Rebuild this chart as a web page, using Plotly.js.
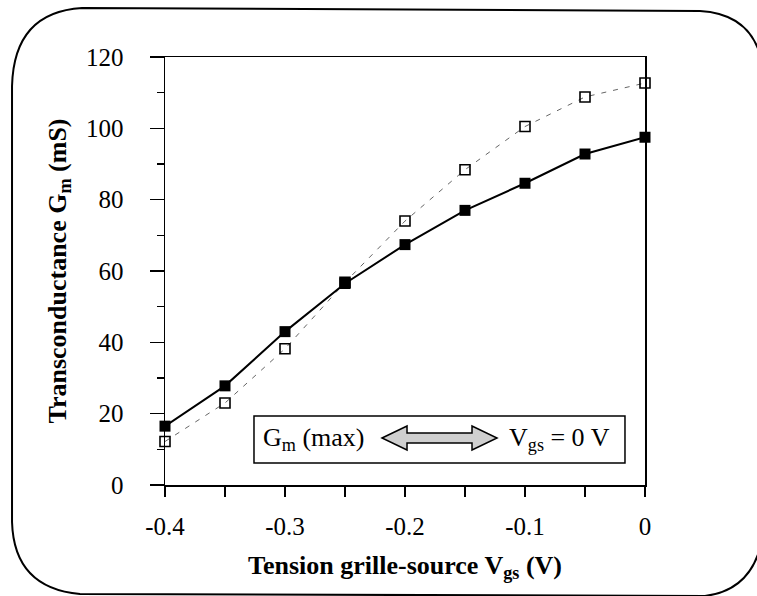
<!DOCTYPE html>
<html>
<head>
<meta charset="utf-8">
<script src="https://cdn.plot.ly/plotly-3.0.1.min.js"></script>
<style>html,body{margin:0;padding:0;background:#fff;}</style>
</head>
<body>
<div id="chart" style="width:757px;height:596px;"></div>
<script>
// Data
const vgs = [-0.4, -0.35, -0.3, -0.25, -0.2, -0.15, -0.1, -0.05, 0];
const gmFilled = [16.5, 27.8, 43, 56.5, 67.4, 77, 84.6, 92.8, 97.5];
const gmOpen = [12.2, 23, 38.2, 56.8, 74, 88.4, 100.5, 108.8, 112.7];
const xTickVals = [-0.4, -0.3, -0.2, -0.1, 0];
const xTickText = ['-0.4', '-0.3', '-0.2', '-0.1', '0'];
const yTickVals = [0, 20, 40, 60, 80, 100, 120];

const W = 757, H = 596;
const mL = 165, mR = 112, mT = 57, mB = 111;
const pw = W - mL - mR, ph = H - mT - mB;
function px(x) { return ((x - mL) / pw).toFixed(4); }
function py(y) { return ((H - mB - y) / ph).toFixed(4); }
function path(cmds) {
  return cmds.map(c => {
    const op = c[0];
    const pts = [];
    for (let i = 1; i < c.length; i += 2) pts.push(px(c[i]) + ',' + py(c[i + 1]));
    return op + ' ' + pts.join(' ');
  }).join(' ') + ' Z';
}

const frame = path([
  ['M', 82, 8], ['L', 700, 11], ['Q', 752, 14, 762, 62], ['L', 762, 540],
  ['Q', 752, 590, 705, 596], ['L', 80, 594], ['Q', 14, 588, 12, 522],
  ['L', 12, 86], ['Q', 14, 12, 82, 8]
]);

const arrow = path([
  ['M', 382, 438], ['L', 407, 426], ['L', 407, 433], ['L', 472, 433],
  ['L', 472, 426], ['L', 497, 438], ['L', 472, 450], ['L', 472, 443],
  ['L', 407, 443], ['L', 407, 450]
]);

const serif = '"Liberation Serif", "DejaVu Serif", serif';

const traces = [
  {
    x: vgs, y: gmOpen, type: 'scatter', mode: 'lines+markers',
    line: { color: '#666', width: 1, dash: '5px,7px' },
    marker: { symbol: 'square-open', size: 10, color: '#000', line: { width: 1.6, color: '#000' } },
    cliponaxis: false, showlegend: false
  },
  {
    x: vgs, y: gmFilled, type: 'scatter', mode: 'lines+markers',
    line: { color: '#000', width: 2 },
    marker: { symbol: 'square', size: 11, color: '#000' },
    cliponaxis: false, showlegend: false
  }
];

const layout = {
  width: W, height: H,
  margin: { l: mL, r: mR, t: mT, b: mB },
  paper_bgcolor: '#fff', plot_bgcolor: '#fff',
  font: { family: serif, color: '#000', size: 25 },
  xaxis: {
    range: [-0.4, 0], tickvals: xTickVals, ticktext: xTickText,
    ticks: 'outside', ticklen: 10, tickwidth: 1.5, tickcolor: '#000',
    minor: { dtick: 0.05, ticks: 'outside', ticklen: 10, tickwidth: 1.5, tickcolor: '#000', showgrid: false },
    showline: true, linecolor: '#000', linewidth: 1.5, mirror: true,
    showgrid: false, zeroline: false, ticklabelstandoff: 8,
    tickfont: { family: serif, size: 25, color: '#000' },
    title: { text: '<b>Tension grille-source V<sub>gs</sub> (V)</b>', font: { family: serif, size: 26, color: '#000' }, standoff: 17 }
  },
  yaxis: {
    range: [0, 120], tickvals: yTickVals,
    ticks: 'outside', ticklen: 14, tickwidth: 1.5, tickcolor: '#000',
    minor: { dtick: 10, ticks: 'outside', ticklen: 7, tickwidth: 1.5, tickcolor: '#000', showgrid: false },
    showline: true, linecolor: '#000', linewidth: 1.5, mirror: true,
    showgrid: false, zeroline: false, ticklabelstandoff: 21,
    tickfont: { family: serif, size: 25, color: '#000' },
    title: { text: '<b>Transconductance G<sub>m</sub> (mS)</b>', font: { family: serif, size: 26, color: '#000' }, standoff: 12 }
  },
  shapes: [
    { type: 'path', xref: 'paper', yref: 'paper', path: frame, line: { color: '#000', width: 2 }, fillcolor: 'rgba(0,0,0,0)', layer: 'below' },
    { type: 'rect', xref: 'paper', yref: 'paper', x0: px(254), x1: px(625), y0: py(463), y1: py(416), line: { color: '#000', width: 1.5 }, fillcolor: '#fff', layer: 'above' },
    { type: 'path', xref: 'paper', yref: 'paper', path: arrow, line: { color: '#000', width: 1.5 }, fillcolor: '#cfcfcf', layer: 'above' }
  ],
  annotations: [
    { xref: 'paper', yref: 'paper', x: px(314), y: py(439), text: 'G<sub>m</sub> (max)', showarrow: false, xanchor: 'center', yanchor: 'middle', font: { family: serif, size: 26, color: '#000' } },
    { xref: 'paper', yref: 'paper', x: px(560), y: py(439), text: 'V<sub>gs</sub> = 0 V', showarrow: false, xanchor: 'center', yanchor: 'middle', font: { family: serif, size: 26, color: '#000' } }
  ]
};

Plotly.newPlot('chart', traces, layout, { displayModeBar: false, staticPlot: true });
</script>
</body>
</html>
